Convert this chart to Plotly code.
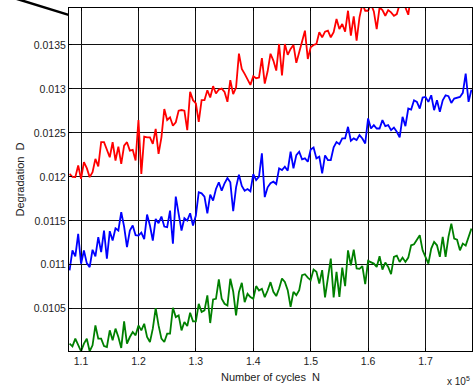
import numpy as np
import plotly.graph_objects as go

# cycles (sampled every 500 cycles)
cycles = np.arange(108000, 178001, 500)

red_D = [
    0.012034, 0.012000, 0.011997, 0.012129, 0.011978, 0.012167, 0.012099, 0.011997, 0.012053, 0.012204,
    0.012118, 0.012394, 0.012394, 0.012299, 0.012223, 0.012394, 0.012186, 0.012344, 0.012148, 0.012356,
    0.012394, 0.012299, 0.012307, 0.012186, 0.012647, 0.012034, 0.012458, 0.012450, 0.012450, 0.012375,
    0.012545, 0.012261, 0.012450, 0.012772, 0.012647, 0.012677, 0.012582, 0.012620, 0.012753, 0.012760,
    0.012753, 0.012532, 0.012966, 0.012872, 0.012834, 0.012626, 0.012872, 0.012872, 0.012985, 0.012902,
    0.013031, 0.012948, 0.012993, 0.013004, 0.012966, 0.012853, 0.013099, 0.012940, 0.013016, 0.013401,
    0.013228, 0.013171, 0.013107, 0.013046, 0.013145, 0.013122, 0.013129, 0.013350, 0.013060, 0.013200,
    0.013400, 0.013322, 0.013209, 0.013511, 0.013152, 0.013511, 0.013387, 0.013455, 0.013500, 0.013296,
    0.013417, 0.013530, 0.013662, 0.013341, 0.013474, 0.013500, 0.013511, 0.013644, 0.013587, 0.013651,
    0.013662, 0.013587, 0.013644, 0.013795, 0.013681, 0.013738, 0.013651, 0.013889, 0.013606, 0.013825,
    0.013548, 0.013813, 0.013964, 0.013889, 0.013889, 0.013964, 0.013881, 0.013681, 0.013926, 0.013896,
    0.013832, 0.013896, 0.013870, 0.013832, 0.013851, 0.013964, 0.014000, 0.013926, 0.013843, 0.014080,
    0.014020, 0.014150, 0.014100, 0.014200,
]

blue_D = [
    0.010936, 0.011163, 0.011095, 0.011352, 0.011012, 0.011163, 0.011019, 0.010974, 0.011171, 0.011095,
    0.011314, 0.011144, 0.011390, 0.011069, 0.011382, 0.011276, 0.011416, 0.011390, 0.011598, 0.011435,
    0.011201, 0.011390, 0.011447, 0.011337, 0.011333, 0.011367, 0.011292, 0.011571, 0.011447, 0.011276,
    0.011522, 0.011473, 0.011549, 0.011435, 0.011428, 0.011617, 0.011239, 0.011775, 0.011579, 0.011390,
    0.011530, 0.011503, 0.011586, 0.011447, 0.011560, 0.011825, 0.011813, 0.011775, 0.011586, 0.011798,
    0.011730, 0.011862, 0.011938, 0.011843, 0.011927, 0.011987, 0.011938, 0.011609, 0.011881, 0.012025,
    0.011896, 0.011843, 0.011862, 0.011836, 0.012032, 0.011964, 0.012002, 0.012267, 0.011770, 0.011881,
    0.011927, 0.011945, 0.011919, 0.012097, 0.012078, 0.012115, 0.012070, 0.012286, 0.012097, 0.012248,
    0.012286, 0.012199, 0.012210, 0.012172, 0.012312, 0.012335, 0.012210, 0.012229, 0.012040, 0.012244,
    0.012191, 0.012191, 0.012335, 0.012395, 0.012372, 0.012437, 0.012437, 0.012569, 0.012410, 0.012437,
    0.012418, 0.012475, 0.012437, 0.012380, 0.012664, 0.012550, 0.012588, 0.012550, 0.012550, 0.012645,
    0.012577, 0.012588, 0.012531, 0.012561, 0.012512, 0.012448, 0.012683, 0.012577, 0.012777, 0.012766,
    0.012871, 0.012853, 0.012777, 0.012902, 0.012909, 0.012853, 0.012928, 0.012758, 0.012871, 0.012739,
    0.012871, 0.012928, 0.012917, 0.012841, 0.012890, 0.012902, 0.012909, 0.012955, 0.013174, 0.012853,
    0.012992,
]

green_D = [
    0.010104, 0.010073, 0.010160, 0.010085, 0.010017, 0.010104, 0.010160, 0.010017, 0.010085, 0.010311,
    0.010160, 0.010160, 0.010077, 0.010066, 0.010255, 0.010141, 0.010274, 0.010179, 0.010055, 0.010357,
    0.010104, 0.010179, 0.010236, 0.010198, 0.010311, 0.010255, 0.010330, 0.010179, 0.010122, 0.010274,
    0.010508, 0.010311, 0.010160, 0.010122, 0.010217, 0.010217, 0.010512, 0.010406, 0.010425, 0.010255,
    0.010349, 0.010304, 0.010455, 0.010357, 0.010357, 0.010557, 0.010463, 0.010482, 0.010652, 0.010338,
    0.010606, 0.010614, 0.010833, 0.010614, 0.010557, 0.010538, 0.010841, 0.010697, 0.010425, 0.010690,
    0.010795, 0.010576, 0.010670, 0.010633, 0.010614, 0.010758, 0.010708, 0.010727, 0.010633, 0.010708,
    0.010803, 0.010693, 0.010644, 0.010731, 0.010844, 0.010806, 0.010712, 0.010523, 0.010693, 0.010655,
    0.010712, 0.010882, 0.010893, 0.010855, 0.010825, 0.010946, 0.010920, 0.010787, 0.010939, 0.010629,
    0.010863, 0.011071, 0.010629, 0.010920, 0.010636, 0.010969, 0.010757, 0.011165, 0.010995, 0.011173,
    0.010958, 0.010954, 0.010984, 0.010780, 0.011044, 0.011033, 0.011014, 0.010976, 0.011097, 0.010946,
    0.011026, 0.010976, 0.010893, 0.011090, 0.011105, 0.011033, 0.011082, 0.011033, 0.011082, 0.011222,
    0.011233, 0.011286, 0.011336, 0.011165, 0.011090, 0.011014, 0.011184, 0.011260, 0.011222, 0.011090,
    0.011317, 0.011090, 0.011317, 0.011468, 0.011298, 0.011286, 0.011165, 0.011241, 0.011218, 0.011309,
    0.011411,
]

x_ticks = [110000, 120000, 130000, 140000, 150000, 160000, 170000]
x_labels = ['1.1', '1.2', '1.3', '1.4', '1.5', '1.6', '1.7']
y_ticks = [0.0105, 0.011, 0.0115, 0.012, 0.0125, 0.013, 0.0135]
y_labels = ['0.0105', '0.011', '0.0115', '0.012', '0.0125', '0.013', '0.0135']

fig = go.Figure()
for ys, col in [(red_D, '#ff0000'), (blue_D, '#0000ff'), (green_D, '#008000')]:
    fig.add_trace(go.Scatter(x=cycles[:len(ys)], y=ys, mode='lines',
                             line=dict(color=col, width=1.8)))

axis_style = dict(showgrid=True, gridcolor='#111', gridwidth=1,
                  showline=True, linecolor='black', linewidth=1, mirror='ticks',
                  ticks='inside', ticklen=3, tickcolor='black', zeroline=False,
                  automargin=False)

fig.update_xaxes(range=[107900, 178100], tickvals=x_ticks, ticktext=x_labels,
                 title=dict(text='Number of cycles  N', font=dict(size=11), standoff=7),
                 **axis_style)
fig.update_yaxes(range=[0.01002, 0.01392], tickvals=y_ticks, ticktext=y_labels,
                 title=dict(text='Degradation  D', font=dict(size=11), standoff=6),
                 **axis_style)

# stray line at top-left corner of the original figure
fig.add_shape(type='line', xref='paper', yref='paper',
              x0=-0.1365, y0=1.029, x1=-0.001, y1=0.980,
              line=dict(color='black', width=2.5))

fig.add_annotation(text='x 10<sup>5</sup>', xref='paper', yref='paper',
                   x=1.0, y=-0.088, xanchor='right', yanchor='middle',
                   showarrow=False, font=dict(size=10))

fig.update_layout(
    width=473, height=388,
    margin=dict(l=69, r=1, t=8, b=37),
    paper_bgcolor='white', plot_bgcolor='white',
    showlegend=False,
    font=dict(family='Liberation Sans, Arial', size=10.5, color='#222'),
)

fig.write_html("out.html", config={'displayModeBar': False},
               post_script="document.body.style.margin='0';")
